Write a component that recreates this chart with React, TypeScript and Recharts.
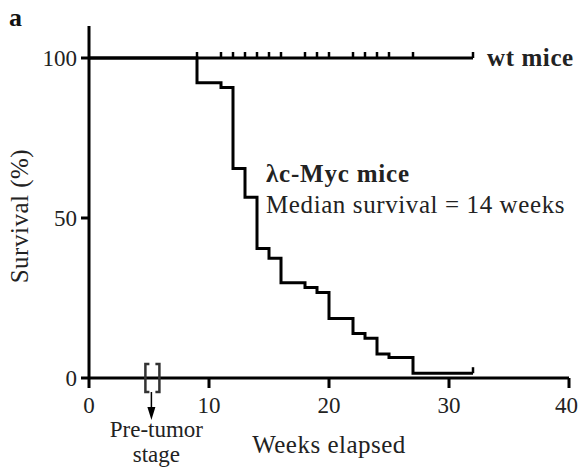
// Kaplan-Meier survival: wt mice vs λc-Myc mice

import { LineChart, Line, XAxis, YAxis, ReferenceDot, Label } from 'recharts';

const FONT = '"Liberation Serif", "Times New Roman", serif';

// weeks at which the λc-Myc curve steps down, and survival (%) after each step
const mycWeeks = [0, 9, 11, 12, 13, 14, 15, 16, 18, 19, 20, 22, 23, 24, 25, 27, 32];
const mycSurvival = [100, 92.3, 90.8, 65.5, 56.5, 40.5, 37.4, 29.8, 28.3, 26.7, 18.6, 13.9, 12.4, 7.5, 6.4, 1.5, 1.5];

// censor marks on the wt line
const wtCensorWeeks = [9, 11, 12, 13, 14, 15, 16, 18, 19, 20, 22, 23, 24, 25, 27, 32];

const xTicks = [0, 10, 20, 30, 40];
const yTicks = [0, 50, 100];

const wtData = [{ week: 0, survival: 100, censor: false }].concat(
  wtCensorWeeks.map((w) => ({ week: w, survival: 100, censor: true }))
);
const mycData = mycWeeks.map((w, i) => ({
  week: w,
  survival: mycSurvival[i],
  censor: i === mycWeeks.length - 1,
}));

const CensorDot = (props: any) => {
  const { cx, cy, payload, index } = props;
  if (!payload || !payload.censor) return <g key={`d-${index}`} />;
  return <line key={`d-${index}`} x1={cx} y1={cy} x2={cx} y2={cy - 6} stroke="#000" strokeWidth={2.5} />;
};

const YTitle = (props: any) => {
  const { viewBox } = props;
  const x = 20;
  const y = viewBox.y + viewBox.height * 0.54;
  return (
    <text
      x={x}
      y={y}
      transform={`rotate(-90 ${x} ${y})`}
      textAnchor="middle"
      dominantBaseline="central"
      fontFamily={FONT}
      fontSize={25}
      letterSpacing={0.5}
      fill="#222"
    >
      Survival (%)
    </text>
  );
};

const PreTumor = (props: any) => {
  const { cx, cy } = props;
  return (
    <g>
      <g stroke="#333" strokeWidth={2.5} fill="none">
        <polyline points={`${cx - 2},${cy - 14} ${cx - 6},${cy - 14} ${cx - 6},${cy + 14} ${cx - 2},${cy + 14}`} />
        <polyline points={`${cx + 4},${cy - 14} ${cx + 8},${cy - 14} ${cx + 8},${cy + 14} ${cx + 4},${cy + 14}`} />
      </g>
      <line x1={cx} y1={cy + 14} x2={cx} y2={cy + 32} stroke="#000" strokeWidth={1.5} />
      <polygon points={`${cx - 4},${cy + 29} ${cx + 4},${cy + 29} ${cx},${cy + 42}`} fill="#000" />
      <text x={cx + 5} y={cy + 59} textAnchor="middle" fontFamily={FONT} fontSize={23} fill="#222">
        Pre-tumor
      </text>
      <text x={cx + 5} y={cy + 84} textAnchor="middle" fontFamily={FONT} fontSize={23} fill="#222">
        stage
      </text>
    </g>
  );
};

const MycNote = (props: any) => {
  const { cx, cy } = props;
  return (
    <g fontFamily={FONT} fill="#222">
      <text x={cx} y={cy} fontSize={25} fontWeight="bold" letterSpacing={0.8}>
        λc-Myc mice
      </text>
      <text x={cx} y={cy + 31} fontSize={25} letterSpacing={0.6}>
        Median survival = 14 weeks
      </text>
    </g>
  );
};

const WtNote = (props: any) => {
  const { cx, cy } = props;
  return (
    <text x={cx + 14} y={cy + 8} fontFamily={FONT} fontSize={25} fontWeight="bold" letterSpacing={0.6} fill="#222">
      wt mice
    </text>
  );
};

export default function App() {
  return (
    <div style={{ position: 'absolute', left: 0, top: 0, width: 578, height: 471, background: '#fff' }}>
      <div
        style={{
          position: 'absolute',
          left: 9,
          top: 5,
          fontFamily: FONT,
          fontWeight: 'bold',
          fontSize: 26,
          color: '#111',
          lineHeight: '26px',
        }}
      >
        a
      </div>
      <LineChart width={578} height={471} margin={{ top: 26, right: 9, bottom: 0, left: 0 }}>
        <XAxis
          type="number"
          dataKey="week"
          domain={[0, 40]}
          ticks={xTicks}
          allowDataOverflow
          height={93}
          tickSize={10}
          tickMargin={9}
          axisLine={{ stroke: '#000', strokeWidth: 3 }}
          tickLine={{ stroke: '#000', strokeWidth: 3 }}
          tick={{ fontFamily: FONT, fontSize: 23, fill: '#222' }}
        >
          <Label
            value="Weeks elapsed"
            position="insideBottom"
            offset={18}
            style={{ fontFamily: FONT, fontSize: 25, fill: '#222', letterSpacing: 0.5 }}
          />
        </XAxis>
        <YAxis
          type="number"
          domain={[0, 110]}
          ticks={yTicks}
          allowDataOverflow
          width={89}
          tickSize={8}
          tickMargin={4}
          axisLine={{ stroke: '#000', strokeWidth: 3 }}
          tickLine={{ stroke: '#000', strokeWidth: 3 }}
          tick={{ fontFamily: FONT, fontSize: 23, fill: '#222' }}
        >
          <Label content={<YTitle />} />
        </YAxis>
        <Line
          data={wtData}
          dataKey="survival"
          type="linear"
          stroke="#000"
          strokeWidth={3}
          dot={<CensorDot />}
          activeDot={false}
          isAnimationActive={false}
        />
        <Line
          data={mycData}
          dataKey="survival"
          type="stepAfter"
          stroke="#000"
          strokeWidth={3}
          dot={<CensorDot />}
          activeDot={false}
          isAnimationActive={false}
        />
        <ReferenceDot x={32} y={100} r={0} ifOverflow="visible" shape={<WtNote />} />
        <ReferenceDot x={14.75} y={61.25} r={0} ifOverflow="visible" shape={<MycNote />} />
        <ReferenceDot x={5.2} y={0} r={0} ifOverflow="visible" shape={<PreTumor />} />
      </LineChart>
    </div>
  );
}
